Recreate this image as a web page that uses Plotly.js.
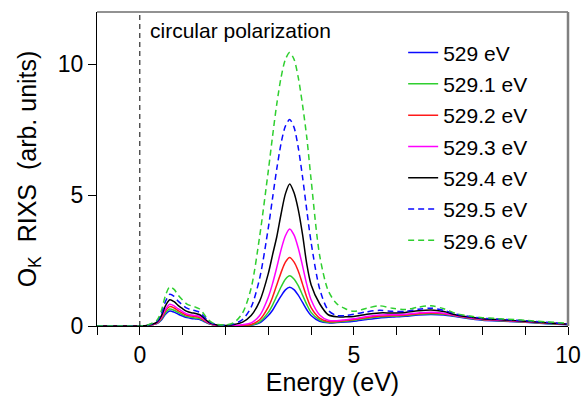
<!DOCTYPE html>
<html>
<head>
<meta charset="utf-8">
<script src="https://cdn.plot.ly/plotly-3.0.1.min.js"></script>
<style>
  html, body { margin: 0; padding: 0; background: #fff; }
  #chart { width: 584px; height: 399px; }
</style>
</head>
<body>
<div id="chart"></div>
<script>
// Energy loss axis (eV)
const energy = [-1, -0.5, 0, 0.2, 0.4, 0.5, 0.6, 0.7, 0.8, 0.9, 1.0, 1.1, 1.2, 1.3, 1.4, 1.5, 1.6, 1.7, 1.8, 2.0, 2.2, 2.4, 2.6, 2.8, 3.0, 3.1, 3.2, 3.3, 3.4, 3.5, 3.6, 3.7, 3.8, 3.9, 4.0, 4.2, 4.4, 4.6, 4.8, 5.0, 5.3, 5.6, 5.9, 6.2, 6.5, 6.8, 7.1, 7.4, 7.7, 8.0, 8.5, 9.0, 9.5, 10];

// Series names (incident energies)
const seriesNames = ["529 eV", "529.1 eV", "529.2 eV", "529.3 eV", "529.4 eV", "529.5 eV", "529.6 eV"];

// RIXS intensity per incident energy
const rixs529_0 = [0, 0, 0, 0.02, 0.09, 0.22, 0.45, 0.57, 0.53, 0.45, 0.38, 0.32, 0.29, 0.27, 0.25, 0.17, 0.09, 0.05, 0.02, 0.01, 0.01, 0.01, 0.03, 0.12, 0.4, 0.6, 0.88, 1.15, 1.38, 1.48, 1.39, 1.18, 0.9, 0.62, 0.4, 0.18, 0.12, 0.13, 0.15, 0.18, 0.25, 0.31, 0.34, 0.37, 0.42, 0.44, 0.42, 0.35, 0.28, 0.22, 0.18, 0.14, 0.09, 0.05];
const rixs529_1 = [0, 0, 0, 0.02, 0.1, 0.25, 0.51, 0.65, 0.6, 0.51, 0.43, 0.36, 0.33, 0.31, 0.28, 0.2, 0.1, 0.05, 0.03, 0.01, 0.01, 0.02, 0.04, 0.16, 0.52, 0.8, 1.15, 1.5, 1.79, 1.92, 1.8, 1.54, 1.18, 0.82, 0.52, 0.23, 0.14, 0.15, 0.18, 0.22, 0.29, 0.35, 0.37, 0.4, 0.45, 0.47, 0.45, 0.37, 0.3, 0.24, 0.2, 0.15, 0.1, 0.06];
const rixs529_2 = [0, 0, 0, 0.02, 0.11, 0.28, 0.58, 0.74, 0.69, 0.58, 0.49, 0.41, 0.38, 0.36, 0.32, 0.22, 0.12, 0.06, 0.03, 0.01, 0.01, 0.03, 0.06, 0.24, 0.72, 1.1, 1.58, 2.05, 2.44, 2.62, 2.45, 2.1, 1.6, 1.1, 0.7, 0.3, 0.17, 0.17, 0.21, 0.25, 0.32, 0.38, 0.4, 0.42, 0.47, 0.5, 0.47, 0.38, 0.31, 0.25, 0.21, 0.16, 0.11, 0.06];
const rixs529_3 = [0, 0, 0, 0.02, 0.12, 0.32, 0.65, 0.83, 0.77, 0.65, 0.55, 0.46, 0.42, 0.4, 0.36, 0.25, 0.13, 0.07, 0.03, 0.01, 0.02, 0.05, 0.12, 0.4, 1.1, 1.62, 2.25, 2.92, 3.45, 3.71, 3.48, 2.98, 2.3, 1.58, 1.0, 0.42, 0.22, 0.2, 0.24, 0.28, 0.36, 0.42, 0.43, 0.45, 0.5, 0.53, 0.49, 0.39, 0.32, 0.26, 0.22, 0.17, 0.12, 0.07];
const rixs529_4 = [0, 0, 0, 0.03, 0.15, 0.38, 0.78, 1.0, 0.93, 0.78, 0.66, 0.56, 0.51, 0.48, 0.43, 0.3, 0.16, 0.08, 0.04, 0.02, 0.06, 0.15, 0.4, 0.95, 2.0, 2.72, 3.42, 4.29, 5.05, 5.43, 5.1, 4.45, 3.5, 2.36, 1.58, 0.85, 0.43, 0.35, 0.35, 0.36, 0.45, 0.5, 0.5, 0.52, 0.58, 0.61, 0.55, 0.42, 0.34, 0.28, 0.23, 0.18, 0.12, 0.07];
const rixs529_5 = [0, 0, 0, 0.04, 0.18, 0.46, 0.94, 1.21, 1.13, 0.94, 0.8, 0.68, 0.62, 0.58, 0.52, 0.36, 0.19, 0.1, 0.05, 0.03, 0.08, 0.25, 0.72, 1.83, 3.74, 4.89, 6.02, 6.99, 7.64, 7.89, 7.6, 6.82, 5.7, 4.42, 3.2, 1.42, 0.6, 0.4, 0.4, 0.45, 0.54, 0.6, 0.56, 0.56, 0.64, 0.68, 0.6, 0.45, 0.36, 0.3, 0.25, 0.2, 0.14, 0.08];
const rixs529_6 = [0, 0, 0, 0.05, 0.22, 0.57, 1.17, 1.5, 1.4, 1.17, 0.99, 0.84, 0.77, 0.72, 0.65, 0.45, 0.24, 0.12, 0.06, 0.04, 0.13, 0.5, 1.45, 3.44, 5.92, 7.25, 8.5, 9.51, 10.19, 10.45, 10.2, 9.5, 8.45, 7.2, 5.6, 2.7, 1.35, 0.85, 0.66, 0.56, 0.68, 0.77, 0.68, 0.63, 0.72, 0.77, 0.66, 0.47, 0.38, 0.32, 0.27, 0.22, 0.16, 0.1];

const seriesValues = [rixs529_0, rixs529_1, rixs529_2, rixs529_3, rixs529_4, rixs529_5, rixs529_6];

// Axis ticks
const xTickStep = 5;
const yTickVals = [0, 5, 10];
const yTickText = ["0", "5", "10"];
const elasticLineX = 0;

// Styles
const colors = ["#0a0aff", "#2fcf2f", "#ff1a1a", "#ff00ff", "#000000", "#0a0aff", "#2fcf2f"];
const dashes = ["solid", "solid", "solid", "solid", "solid", "6px,4px", "6px,4px"];

const FONT = "Liberation Sans, Arial, Helvetica, sans-serif";

const traces = seriesValues.map((vals, i) => ({
  type: "scatter",
  mode: "lines",
  x: energy,
  y: vals,
  name: seriesNames[i],
  legendgroup: "g" + i,
  line: { color: colors[i], width: 1.5, dash: dashes[i], shape: "spline", smoothing: 0.8 },
  hoverinfo: "skip"
}));

const layout = {
  width: 584,
  height: 399,
  margin: { l: 97, r: 16, t: 12, b: 73 },
  paper_bgcolor: "#ffffff",
  plot_bgcolor: "#ffffff",
  font: { family: FONT, size: 20, color: "#000" },
  showlegend: true,
  legend: {
    x: 0.65, xanchor: "left",
    y: 0.935, yanchor: "top",
    bgcolor: "rgba(0,0,0,0)",
    borderwidth: 0,
    font: { family: FONT, size: 21, color: "#000" },
    tracegroupgap: 1,
    traceorder: "grouped"
  },
  xaxis: {
    range: [-1, 10],
    tickmode: "linear",
    tick0: 0,
    dtick: xTickStep,
    ticks: "outside",
    ticklen: 8,
    tickwidth: 1,
    tickcolor: "#000",
    minor: { dtick: 1, tick0: 0, ticks: "outside", ticklen: 8, tickwidth: 1, tickcolor: "#000", showgrid: false },
    showgrid: false,
    zeroline: false,
    showline: true,
    linecolor: "#000",
    linewidth: 1,
    tickfont: { family: FONT, size: 23, color: "#000" },
    title: { text: "Energy (eV)", font: { family: FONT, size: 25, color: "#000" }, standoff: 4 }
  },
  yaxis: {
    range: [0, 12],
    tickmode: "array",
    tickvals: yTickVals,
    ticktext: yTickText,
    ticks: "outside",
    ticklen: 8,
    tickwidth: 1,
    tickcolor: "#000",
    showgrid: false,
    zeroline: false,
    showline: true,
    linecolor: "#000",
    linewidth: 1,
    tickfont: { family: FONT, size: 23, color: "#000" },
    title: { text: "O<sub>K</sub>\u00A0 RIXS\u00A0 (arb. units)", font: { family: FONT, size: 25, color: "#000" }, standoff: 14 }
  },
  shapes: [
    { type: "line", xref: "x", yref: "paper", x0: elasticLineX, x1: elasticLineX, y0: 0, y1: 1,
      line: { color: "#000", width: 1, dash: "5px,4px" }, layer: "above" },
    { type: "line", xref: "paper", yref: "paper", x0: 0, x1: 1, y0: 1, y1: 1,
      line: { color: "#6e6e6e", width: 1.5 } },
    { type: "line", xref: "paper", yref: "paper", x0: 1, x1: 1, y0: 0, y1: 1,
      line: { color: "#808080", width: 2.5 } }
  ],
  annotations: [
    { xref: "paper", yref: "paper", x: 0.108, y: 0.94, xanchor: "left", yanchor: "middle",
      text: "circular polarization", showarrow: false,
      font: { family: FONT, size: 21, color: "#000" } }
  ]
};

Plotly.newPlot("chart", traces, layout, { displayModeBar: false, staticPlot: true });
</script>
</body>
</html>
